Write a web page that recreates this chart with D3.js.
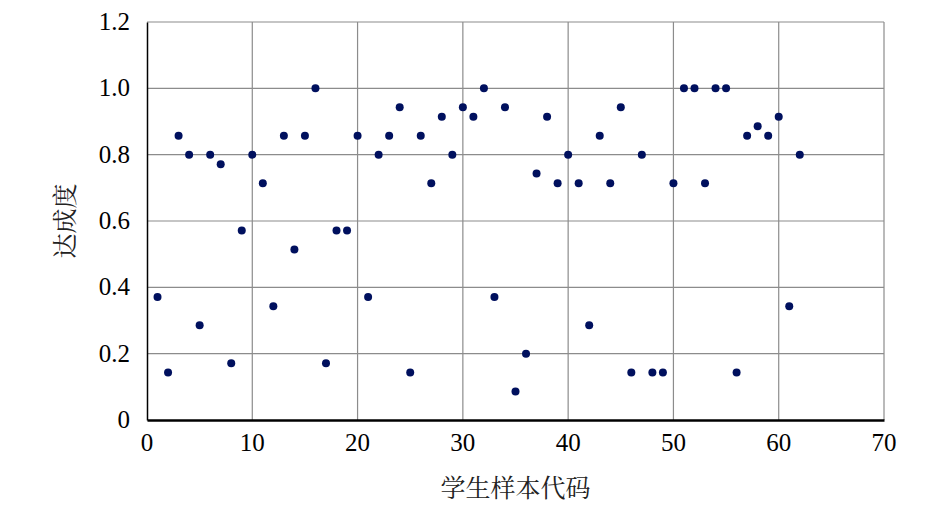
<!DOCTYPE html>
<html><head><meta charset="utf-8">
<script src="https://cdn.jsdelivr.net/npm/d3@7"></script>
<style>body{margin:0;background:#fff}</style>
</head><body>
<svg id="c" width="945" height="510"></svg>
<script>
const studentIds = d3.range(1, 63);
const achievement = [0.371,0.143,0.857,0.8,0.286,0.8,0.771,0.171,0.571,0.8,
0.714,0.343,0.857,0.514,0.857,1.0,0.171,0.571,0.571,0.857,
0.371,0.8,0.857,0.943,0.143,0.857,0.714,0.914,0.8,0.943,
0.914,1.0,0.371,0.943,0.086,0.2,0.743,0.914,0.714,0.8,
0.714,0.286,0.857,0.714,0.943,0.143,0.8,0.143,0.143,0.714,
1.0,1.0,0.714,1.0,1.0,0.143,0.857,0.886,0.857,0.914,
0.343,0.8];
const xTicks = [0,10,20,30,40,50,60,70];
const yTicks = [0,0.2,0.4,0.6,0.8,1.0,1.2];
const yTickLabels = ["0","0.2","0.4","0.6","0.8","1.0","1.2"];
const xTitle = "学生样本代码", yTitle = "达成度";

const svg = d3.select("#c");
const L=147, R=884, T=22, B=420;
const x = d3.scaleLinear().domain([0,70]).range([L,R]);
const y = d3.scaleLinear().domain([0,1.2]).range([B,T]);
const lblStyle = "font-family:'Liberation Serif';font-size:25px;fill:#000";

// grid
svg.append("g").selectAll("line").data(xTicks.slice(1)).join("line")
  .attr("x1",d=>x(d)).attr("x2",d=>x(d)).attr("y1",T).attr("y2",B)
  .attr("stroke","#8c8c8c").attr("stroke-width",1.2);
svg.append("g").selectAll("line").data(yTicks.slice(1)).join("line")
  .attr("x1",L).attr("x2",R).attr("y1",d=>y(d)).attr("y2",d=>y(d))
  .attr("stroke","#8c8c8c").attr("stroke-width",1.2);

// axis lines
const xa = svg.append("g").attr("transform",`translate(0,${B})`)
  .call(d3.axisBottom(x).tickValues(xTicks).tickSize(0).tickFormat(""));
xa.select(".domain").attr("stroke","#000").attr("stroke-width",2.5);
const ya = svg.append("g").attr("transform",`translate(${L},0)`)
  .call(d3.axisLeft(y).tickValues(yTicks).tickSize(0).tickFormat(""));
ya.select(".domain").attr("stroke","#000").attr("stroke-width",1.5);

// tick labels
svg.append("g").selectAll("text").data(xTicks).join("text").attr("style",lblStyle)
  .attr("x",d=>x(d)).attr("y",B+31).attr("text-anchor","middle").text(d=>d);
svg.append("g").selectAll("text").data(yTicks).join("text").attr("style",lblStyle)
  .attr("x",L-17).attr("y",d=>y(d)+8).attr("text-anchor","end").text((d,i)=>yTickLabels[i]);

// dots
svg.append("g").selectAll("circle").data(studentIds).join("circle")
  .attr("cx",(d)=>x(d)).attr("cy",(d,i)=>y(achievement[i])).attr("r",4)
  .attr("fill","#00105e");

// titles
const cjk = "Noto Serif CJK SC";
svg.append("text").attr("x",(L+R)/2).attr("y",497).attr("text-anchor","middle")
  .attr("font-family",cjk).attr("font-size",25).attr("fill","#222").text(xTitle);
svg.append("text").attr("transform",`translate(74,${(T+B)/2}) rotate(-90)`).attr("text-anchor","middle")
  .attr("font-family",cjk).attr("font-size",25).attr("fill","#222").text(yTitle);
</script>
</body></html>
